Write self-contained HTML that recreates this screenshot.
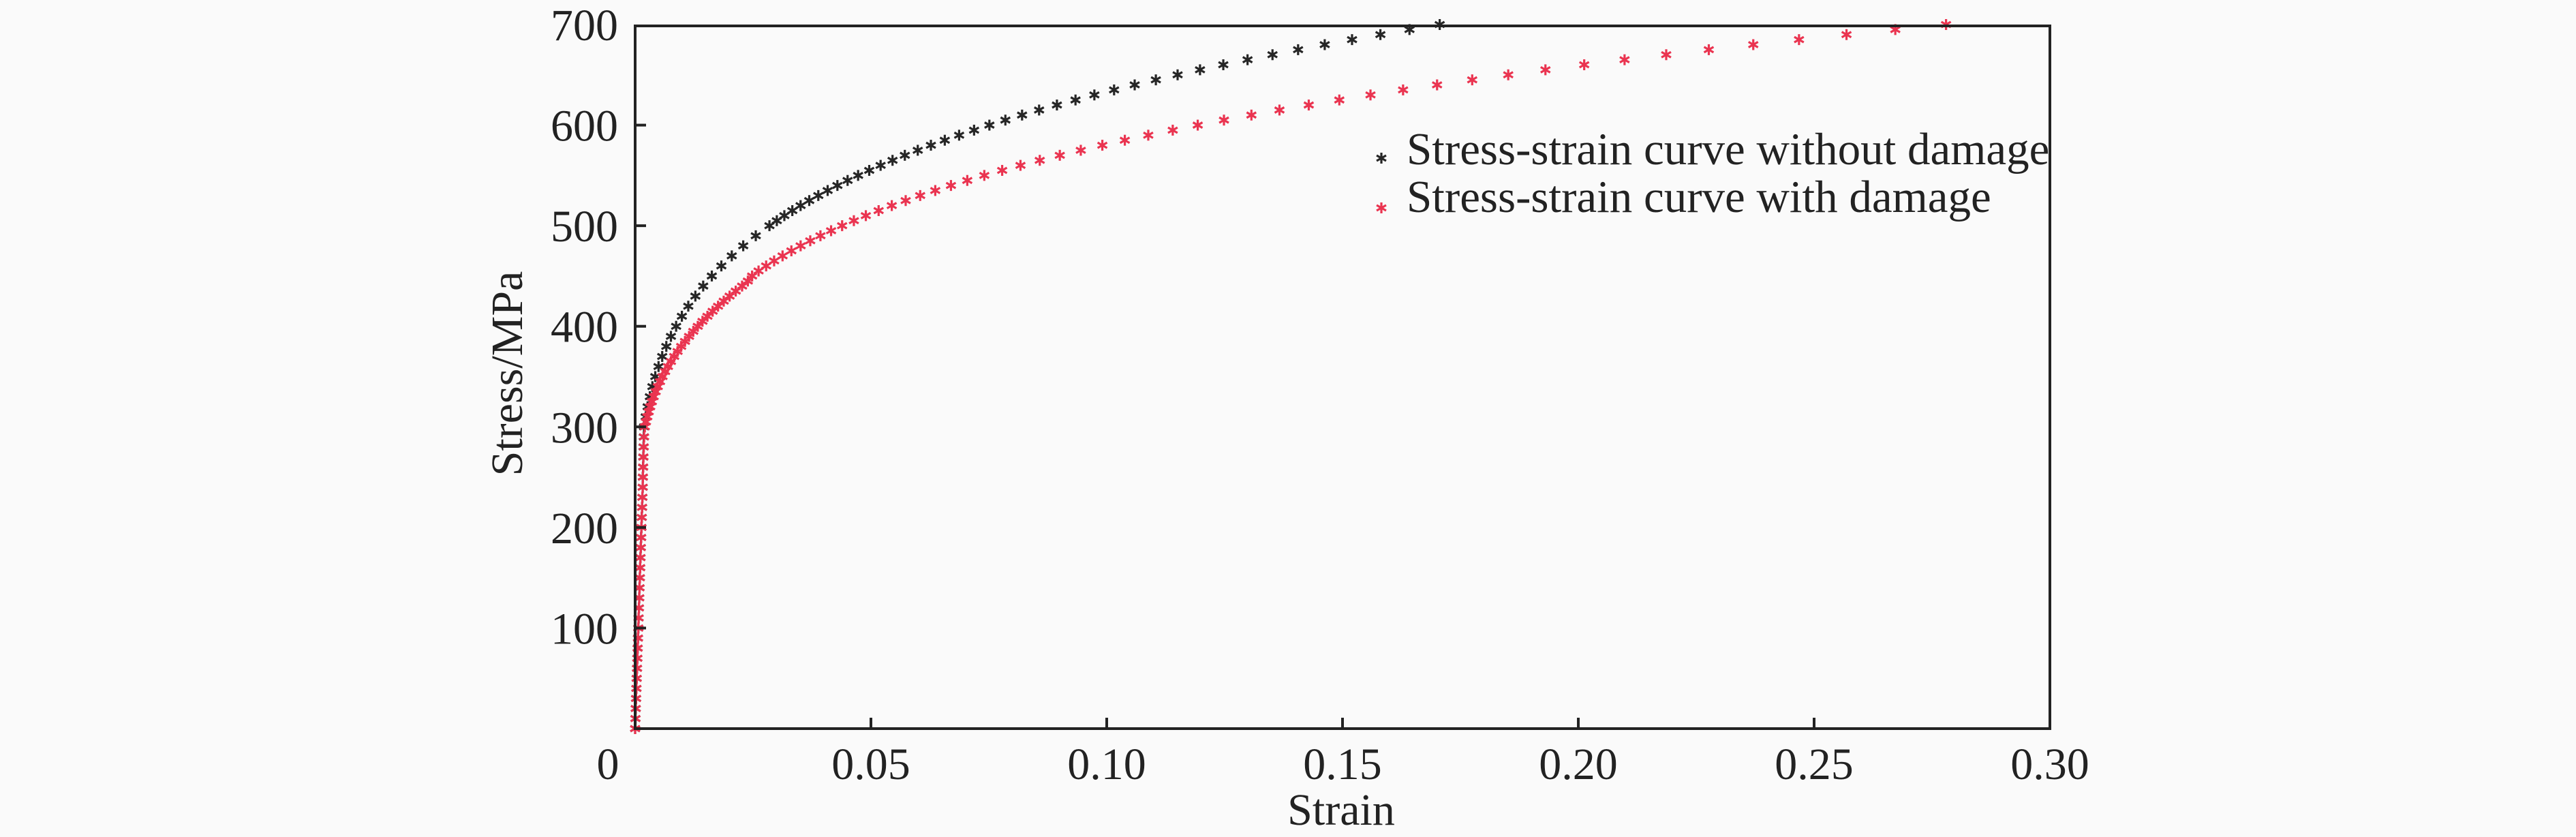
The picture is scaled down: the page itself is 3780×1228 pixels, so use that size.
<!DOCTYPE html>
<html><head><meta charset="utf-8"><style>
html,body{margin:0;padding:0;background:#fafafa;}
svg{display:block;font-family:"Liberation Serif",serif;}
</style></head><body>
<svg id="chart" width="3780" height="1228" viewBox="0 0 3780 1228" xmlns="http://www.w3.org/2000/svg">
<rect x="0" y="0" width="3780" height="1228" fill="#fafafa"/>
<g id="marks"></g>
<rect x="932" y="38" width="2076" height="1031" fill="none" stroke="#222" stroke-width="4"/>
<g id="axes"></g>
<text x="1968" y="1210" font-size="66" text-anchor="middle" fill="#222">Strain</text>
<text transform="translate(766,548) rotate(-90)" font-size="66" text-anchor="middle" fill="#222">Stress/MPa</text>
<g>
<g id="leg1"></g><g id="leg2"></g>
<text x="2064" y="241" font-size="67" fill="#222">Stress-strain curve without damage</text>
<text x="2064" y="311" font-size="67" fill="#222">Stress-strain curve with damage</text>
</g>
</svg>
<script>
const xTicks=[0,0.05,0.10,0.15,0.20,0.25,0.30];
const xTickLabels=["0","0.05","0.10","0.15","0.20","0.25","0.30"];
const yTicks=[100,200,300,400,500,600,700];
const yTickLabels=["100","200","300","400","500","600","700"];
const blackStress=[0,10,20,30,40,50,60,70,80,90,100,110,120,130,140,150,160,170,180,190,200,210,220,230,240,250,260,270,280,290,
300,310,320,330,340,350,360,370,380,390,400,410,420,430,440,450,460,470,480,490,500,
505,510,515,520,525,530,535,540,545,550,555,560,565,570,575,580,585,590,595,600,605,610,615,620,625,630,635,640,645,650,655,660,665,670,675,680,685,690,695,700];
const blackStrain=[0,0.00007,0.00013,0.0002,0.00027,0.00033,0.0004,0.00047,0.00053,0.0006,0.00067,0.00073,0.0008,0.00087,0.00093,0.001,0.00107,0.00113,0.0012,0.00127,0.00133,0.0014,0.00147,0.00153,0.0016,0.00163,0.00168,0.00173,0.00178,0.00183,
0.00188,0.00224,0.00265,0.00312,0.00366,0.00427,0.00496,0.00574,0.00661,0.00759,0.00869,0.00991,0.01127,0.01277,0.01443,0.01626,0.01828,0.02049,0.02292,0.02558,0.02848,
0.03004,0.03164,0.03333,0.03508,0.03692,0.03884,0.04082,0.04289,0.04505,0.04728,0.04964,0.05205,0.05458,0.05719,0.05993,0.06272,0.06566,0.0687,0.07187,0.07512,0.07851,0.08205,0.08566,0.08944,0.09338,0.09738,0.10156,0.10593,0.11042,0.11503,0.11978,0.12472,0.12986,0.13515,0.14058,0.14623,0.15202,0.15803,0.1642,0.17061];
const redStress=[0,10,20,30,40,50,60,70,80,90,100,110,120,130,140,150,160,170,180,190,200,210,220,230,240,250,260,270,280,290,
300,305,310,315,320,325,330,335,340,345,350,355,360,365,370,375,380,385,390,395,400,405,410,415,420,425,430,435,440,445,450,
455,460,465,470,475,480,485,490,495,500,505,510,515,520,525,530,535,540,545,550,555,560,565,570,575,580,585,590,595,600,605,610,615,620,625,630,635,640,645,650,655,660,665,670,675,680,685,690,695,700];
const redStrain=[0,0.00007,0.00013,0.0002,0.00027,0.00033,0.0004,0.00047,0.00053,0.0006,0.00067,0.00073,0.0008,0.00087,0.00093,0.001,0.00107,0.00113,0.0012,0.00127,0.00133,0.0014,0.00147,0.00153,0.0016,0.00165,0.0017,0.00176,0.00183,0.0019,
0.00205,0.0023,0.00258,0.00288,0.0032,0.00355,0.00393,0.00435,0.0048,0.00528,0.0058,0.00636,0.00696,0.0076,0.00828,0.009,0.00976,0.01057,0.01143,0.01233,0.01328,0.01428,0.01533,0.01643,0.01758,0.01878,0.02003,0.02133,0.02268,0.0239,0.0248,
0.02617,0.02778,0.02947,0.03126,0.03313,0.03509,0.03713,0.03929,0.04155,0.04389,0.04638,0.04892,0.05163,0.05442,0.05737,0.06044,0.06364,0.06697,0.07043,0.07404,0.07783,0.08171,0.0858,0.09005,0.0945,0.09907,0.10384,0.10881,0.114,0.1193,0.12486,0.13068,0.13663,0.14284,0.14932,0.15593,0.16284,0.17005,0.1775,0.18514,0.19303,0.20125,0.20981,0.21864,0.22767,0.2371,0.2468,0.25687,0.26722,0.27798];

const NS="http://www.w3.org/2000/svg";
const X0=932,X1=3008,Y0=1069,Y1=36;
function xs(v){return X0+(v-0)/(0.30-0)*(X1-X0);}
function ys(v){return Y0-(v-0)/(700-0)*(Y0-Y1);}
function star(parent,cx,cy,color,r){
  const g=document.createElementNS(NS,'g');
  g.setAttribute('stroke',color);g.setAttribute('stroke-width','3.2');
  [[0,-r,0,r],[-r*0.87,-r*0.5,r*0.87,r*0.5],[-r*0.87,r*0.5,r*0.87,-r*0.5]].forEach(a=>{
    const l=document.createElementNS(NS,'line');
    l.setAttribute('x1',cx+a[0]);l.setAttribute('y1',cy+a[1]);
    l.setAttribute('x2',cx+a[2]);l.setAttribute('y2',cy+a[3]);
    g.appendChild(l);
  });
  parent.appendChild(g);
  return g;
}
const marks=document.getElementById('marks');
const gb=document.createElementNS(NS,'g');


marks.appendChild(gb);
const gr=document.createElementNS(NS,'g');


marks.appendChild(gr);
blackStrain.forEach((e,i)=>{
  const m=star(gb,xs(e),ys(blackStress[i]),'#262626',8);
  
  
});
redStrain.forEach((e,i)=>{
  const m=star(gr,xs(e),ys(redStress[i]),'#ea3450',8);
  
  
});
const axes=document.getElementById('axes');
xTicks.forEach((t,i)=>{
  const x=xs(t);
  if(i>0&&i<xTicks.length-1){
    const l=document.createElementNS(NS,'line');
    l.setAttribute('x1',x);l.setAttribute('x2',x);l.setAttribute('y1',Y0);l.setAttribute('y2',Y0-16);
    l.setAttribute('stroke','#222');l.setAttribute('stroke-width','4');
    
    
    axes.appendChild(l);
  }
  const tx=document.createElementNS(NS,'text');
  tx.setAttribute('x',i===0?x-40:x);tx.setAttribute('y',1143);
  tx.setAttribute('font-size','66');tx.setAttribute('text-anchor','middle');tx.setAttribute('fill','#222');
  tx.textContent=xTickLabels[i];
  
  
  axes.appendChild(tx);
});
yTicks.forEach((t,i)=>{
  const y=ys(t);
  if(t<700){
    const l=document.createElementNS(NS,'line');
    l.setAttribute('x1',X0);l.setAttribute('x2',X0+16);l.setAttribute('y1',y);l.setAttribute('y2',y);
    l.setAttribute('stroke','#222');l.setAttribute('stroke-width','4');
    
    
    axes.appendChild(l);
  }
  const tx=document.createElementNS(NS,'text');
  tx.setAttribute('x',907);tx.setAttribute('y',y+23);
  tx.setAttribute('font-size','66');tx.setAttribute('text-anchor','end');tx.setAttribute('fill','#222');
  tx.textContent=yTickLabels[i];
  
  
  axes.appendChild(tx);
});
const l1=star(document.getElementById('leg1'),2027,232,'#262626',8);


const l2=star(document.getElementById('leg2'),2027,305,'#ea3450',8);


</script>
</body></html>
